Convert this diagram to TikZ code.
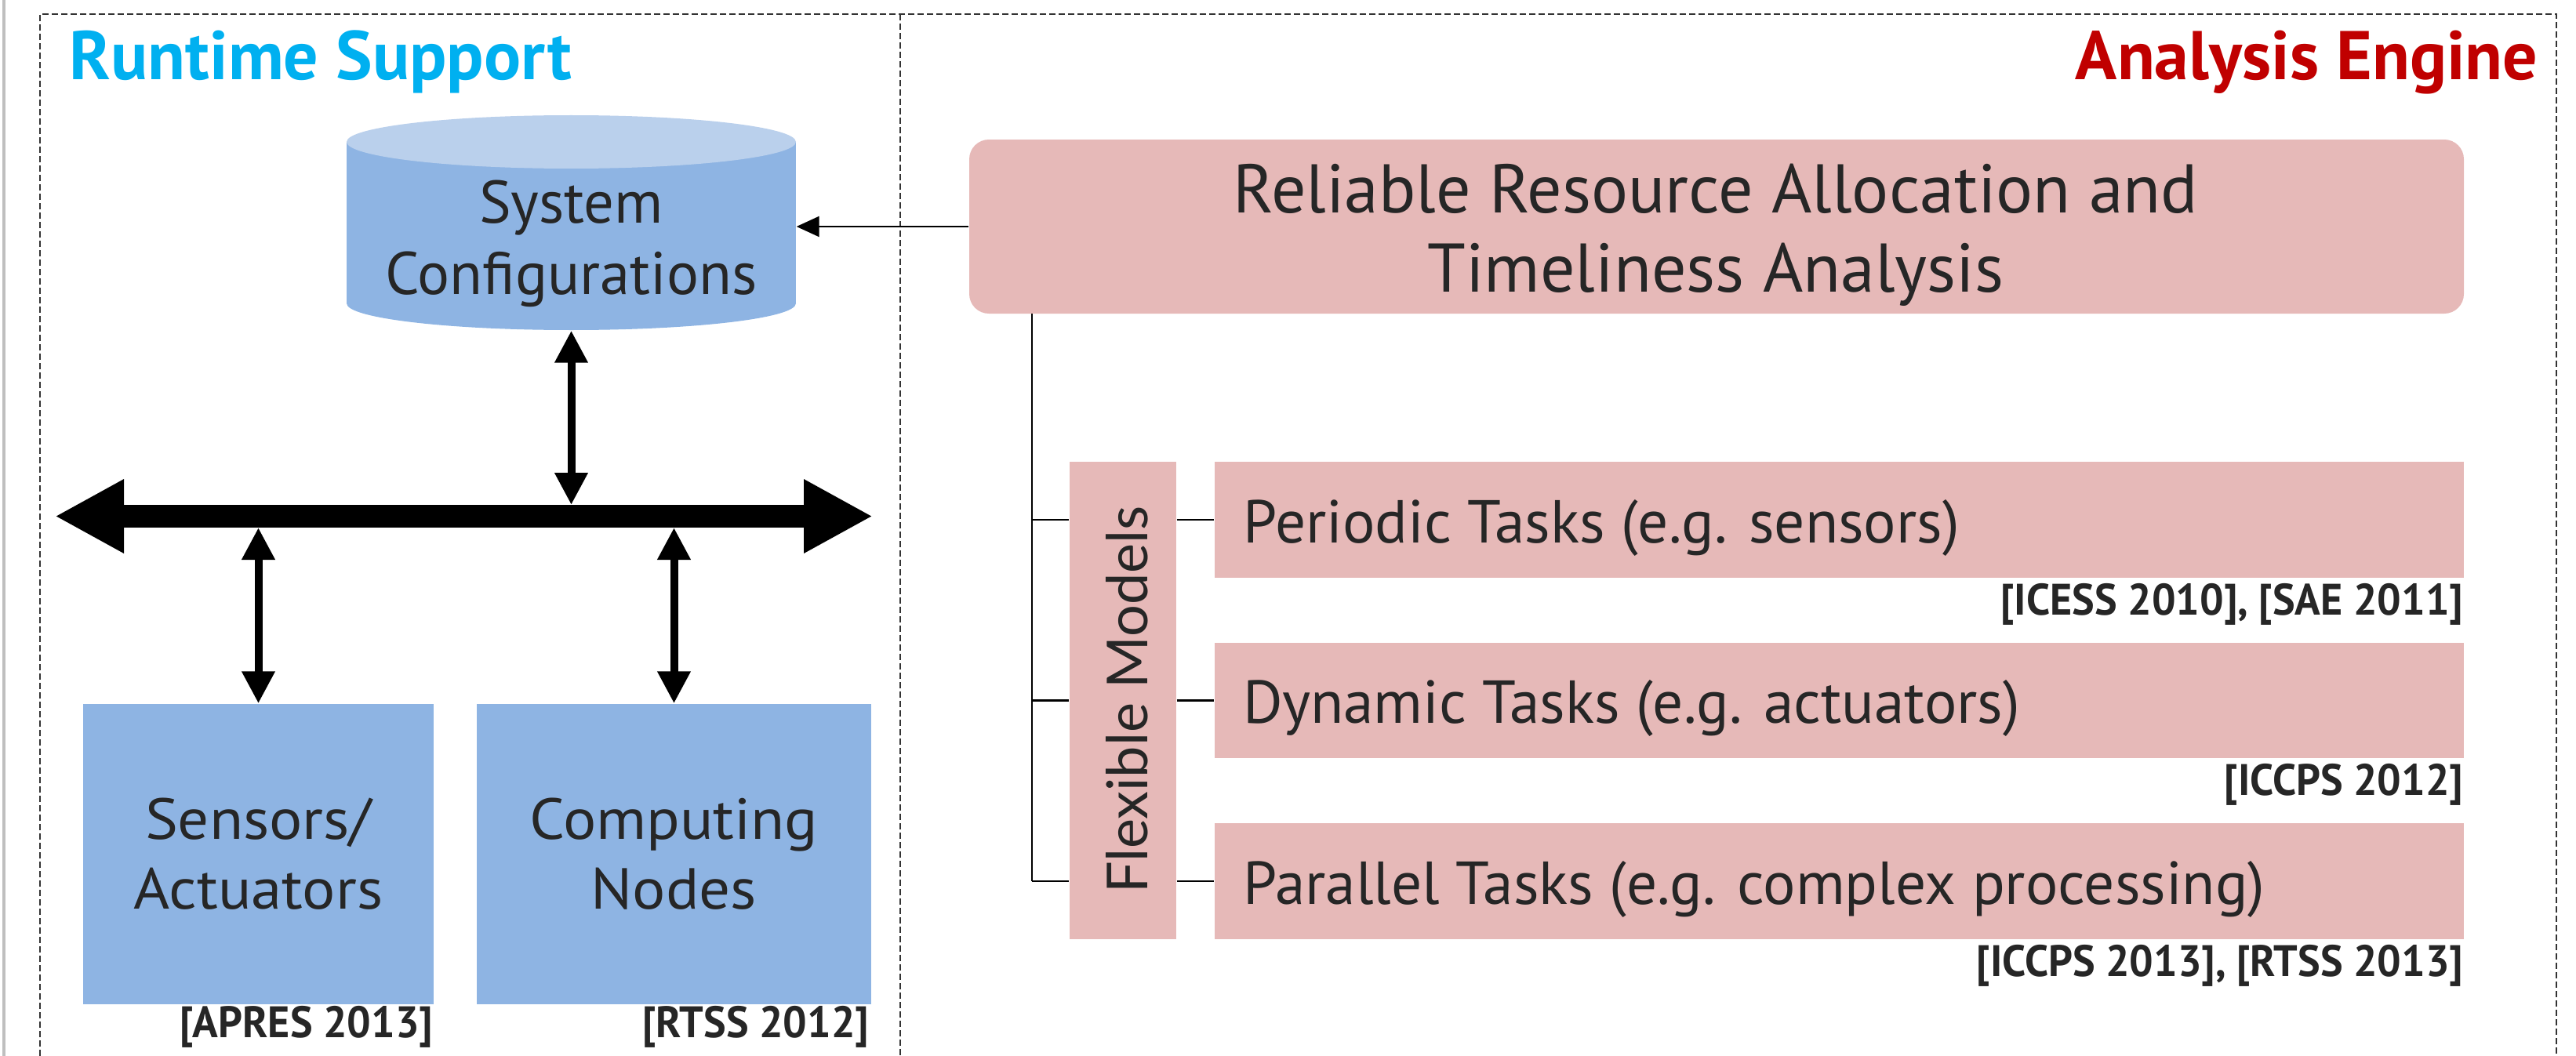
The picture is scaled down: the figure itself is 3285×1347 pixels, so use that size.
\documentclass[tikz,border=0pt]{standalone}
\usepackage{fontspec}
\setmainfont{PT Sans}
\newfontfamily\reffont[FakeStretch=0.96]{PT Sans}
\newfontfamily\widefont[FakeStretch=1.07]{PT Sans}
\newfontfamily\geofont{Lato}
\usetikzlibrary{arrows.meta}
\definecolor{cyanh}{HTML}{00B0F0}
\definecolor{redh}{HTML}{C00000}
\definecolor{bluebox}{HTML}{8EB4E3}
\definecolor{bluetop}{HTML}{BAD0EC}
\definecolor{pinkbox}{HTML}{E6B9B8}
\definecolor{txt}{HTML}{262626}
\definecolor{frm}{HTML}{333333}
\definecolor{leftbar}{HTML}{BFBFBF}
\begin{document}
\begin{tikzpicture}[x=0.1mm,y=-0.1mm,
  hdr/.style={inner sep=0, font=\bfseries\fontsize{25pt}{28pt}\selectfont},
  cyltxt/.style={inner sep=0, text=txt, font=\fontsize{21.8pt}{25.6pt}\selectfont},
  bigtxt/.style={inner sep=0, text=txt, font=\fontsize{25pt}{28.5pt}\selectfont},
  tasktxt/.style={inner sep=0, text=txt, font=\fontsize{22pt}{25pt}\selectfont},
  reftxt/.style={inner sep=0, text=txt, font=\reffont\bfseries\fontsize{16pt}{18pt}\selectfont},
  bluerect/.style={fill=bluebox, inner sep=0, align=center, text=txt, font=\widefont\fontsize{21pt}{25.3pt}\selectfont},
  pinkrect/.style={fill=pinkbox, inner sep=0},
  frmline/.style={draw=frm, line width=0.15mm, dash pattern=on 0.8mm off 0.4mm},
  thinline/.style={draw=black, line width=0.25mm},
  thinarrow/.style={thinline, -{Triangle[length=2.9mm,width=2.6mm]}},
  busarrow/.style={line width=2.9mm, {Triangle[length=8.8mm,width=8.8mm]}-{Triangle[length=8.8mm,width=8.8mm]}},
  dblarrow/.style={line width=1mm, {Triangle[length=4.1mm,width=4mm]}-{Triangle[length=4.1mm,width=4mm]}}
]
\useasboundingbox (0,0) rectangle (3285,1347);
\fill[leftbar] (3,0) rectangle (7,1347);
% frame
\draw[frmline] (51,1347) -- (51,18) -- (3260,18) -- (3260,1347);
\draw[frmline] (1148,18) -- (1148,1347);
% titles
\node[hdr, text=cyanh, anchor=base west] (rt) at (88,102) {Runtime Support};
\node[hdr, text=redh, anchor=base east] (ae) at (3237,102) {Analysis Engine};
% cylinder
\fill[bluebox] (442,181) rectangle (1015,387);
\fill[bluebox] (728.5,387) ellipse [x radius=286.5, y radius=34];
\fill[bluetop] (728.5,181) ellipse [x radius=286.5, y radius=34];
\node[inner sep=0, minimum width=57.3mm, minimum height=26mm] (cfg) at (728.5,291) {};
\node[cyltxt, anchor=base] (cfg1) at (728.5,285) {System};
\node[cyltxt, anchor=base] (cfg2) at (728.5,375) {Configurations};
% bus
\coordinate (busL) at (70,658.5);
\coordinate (busR) at (1113,658.5);
\coordinate (bustop) at (0,644);
\coordinate (busbot) at (0,673);
\draw[busarrow] (busL) -- (busR);
% boxes
\node[bluerect, minimum width=44.7mm, minimum height=38.3mm] (sa) at (329.5,1089.5) {Sensors/\\Actuators};
\node[bluerect, minimum width=50.3mm, minimum height=38.3mm] (cn) at (859.5,1089.5) {Computing\\Nodes};
\draw[dblarrow] (cfg.south) -- (cfg.south |- bustop);
\draw[dblarrow] (sa.north) -- (sa.north |- busbot);
\draw[dblarrow] (cn.north) -- (cn.north |- busbot);
\node[reftxt, anchor=base east] (ref4) at (553,1323) {[APRES 2013]};
\node[reftxt, anchor=base east] (ref5) at (1109,1323) {[RTSS 2012]};
% analysis engine
\node[pinkrect, rounded corners=2.5mm, minimum width=190.6mm, minimum height=22.2mm] (rra) at (2189,289) {};
\node[bigtxt, anchor=base] (rra1) at (2188,272) {Reliable Resource Allocation and};
\node[bigtxt, anchor=base] (rra2) at (2188,372) {Timeliness Analysis};
\draw[thinarrow] (rra.west) -- (cfg.east |- rra.west);
\node[pinkrect, minimum width=13.6mm, minimum height=60.9mm] (fm) at (1432,893.5) {};
\node[inner sep=0, text=txt, rotate=90, anchor=base, font=\geofont\fontsize{20.5pt}{22pt}\selectfont] (fmt) at (1463,892.5) {Flexible Models};
\node[pinkrect, minimum width=159.3mm, minimum height=14.8mm] (t1) at (2345.5,663) {};
\node[pinkrect, minimum width=159.3mm, minimum height=14.7mm] (t2) at (2345.5,893.5) {};
\node[pinkrect, minimum width=159.3mm, minimum height=14.8mm] (t3) at (2345.5,1124) {};
\node[tasktxt, anchor=base west] (t1x) at (1585,692) {Periodic Tasks (e.g. sensors)};
\node[tasktxt, anchor=base west] (t2x) at (1585,922) {Dynamic Tasks (e.g. actuators)};
\node[tasktxt, anchor=base west] (t3x) at (1585,1153) {Parallel Tasks (e.g. complex processing)};
\node[reftxt, anchor=base east] (ref1) at (3142,784) {[ICESS 2010], [SAE 2011]};
\node[reftxt, anchor=base east] (ref2) at (3142,1014) {[ICCPS 2012]};
\node[reftxt, anchor=base east] (ref3) at (3142,1245) {[ICCPS 2013], [RTSS 2013]};
% tree
\coordinate (trk) at (1316,400);
\draw[thinline] (trk) -- (trk |- t3.west);
\foreach \i in {1,2,3} {
  \draw[thinline] (trk |- t\i.west) -- (fm.west |- t\i.west);
  \draw[thinline] (fm.east |- t\i.west) -- (t\i.west);
}
\end{tikzpicture}
\end{document}
